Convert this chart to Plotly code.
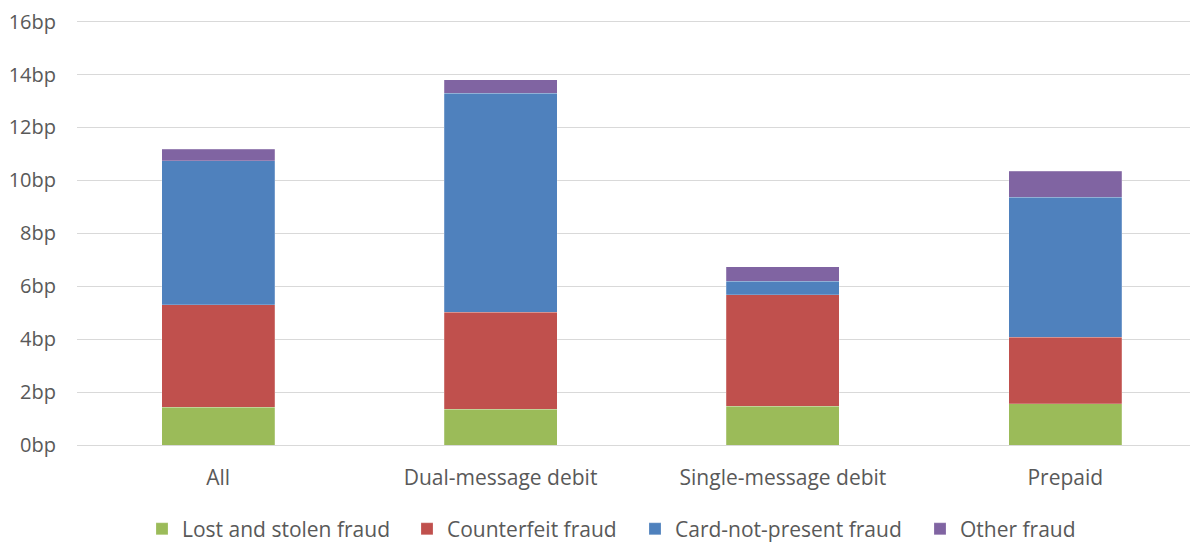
import plotly.graph_objects as go

categories = ["All", "Dual-message debit", "Single-message debit", "Prepaid"]
lost_stolen = [1.43, 1.36, 1.47, 1.56]
counterfeit = [3.87, 3.66, 4.21, 2.52]
card_not_present = [5.45, 8.28, 0.51, 5.28]
other = [0.43, 0.50, 0.55, 0.99]
tick_values = [0, 2, 4, 6, 8, 10, 12, 14, 16]
tick_labels = [f"{v}bp" for v in tick_values]

series = [
    ("Lost and stolen fraud", lost_stolen, "#9BBB59"),
    ("Counterfeit fraud", counterfeit, "#C0504D"),
    ("Card-not-present fraud", card_not_present, "#4F81BD"),
    ("Other fraud", other, "#8064A2"),
]
# left edge (page px) of each one-item legend, spaced like the original
legend_left_px = [142, 407, 635, 920]

font_family = "Open Sans, Noto Sans, sans-serif"
text_color = "#595959"
fig_width = 1190
fig = go.Figure()
legend_layouts = {}
for i, (name, values, color) in enumerate(series):
    legend_id = "legend" if i == 0 else f"legend{i + 1}"
    fig.add_trace(go.Bar(x=categories, y=values, name=name, width=0.4, legend=legend_id,
                         marker=dict(color=color, line=dict(color="rgba(255,255,255,0.35)", width=0.6))))
    legend_layouts[legend_id] = dict(orientation="h", xref="container", x=(legend_left_px[i] - 8) / fig_width,
                                     xanchor="left", yref="container", y=0.024, yanchor="middle",
                                     font=dict(size=21, color=text_color), itemwidth=30)

# page body adds an 8px margin, so the figure is sized to fit the window
fig.update_layout(
    barmode="stack",
    width=fig_width, height=534,
    paper_bgcolor="white", plot_bgcolor="white",
    margin=dict(l=69, r=0, t=11, b=97, autoexpand=False),
    font=dict(family=font_family, size=21, color=text_color),
    xaxis=dict(type="category", range=[-0.5, 3.47], showgrid=False, showline=False, ticks="",
               automargin=False, ticklabelstandoff=18, tickfont=dict(size=21, color=text_color)),
    yaxis=dict(range=[0, 16.1], tickvals=tick_values, ticktext=tick_labels, showgrid=True,
               gridcolor="#D9D9D9", gridwidth=1.3, zeroline=True, zerolinecolor="#D9D9D9", zerolinewidth=1.3,
               showline=False, ticks="", automargin=False, ticklabelstandoff=20, ticklabeloverflow="allow",
               tickfont=dict(size=20, color=text_color)),
    showlegend=True,
    **legend_layouts,
)

fig.write_html("out.html")
